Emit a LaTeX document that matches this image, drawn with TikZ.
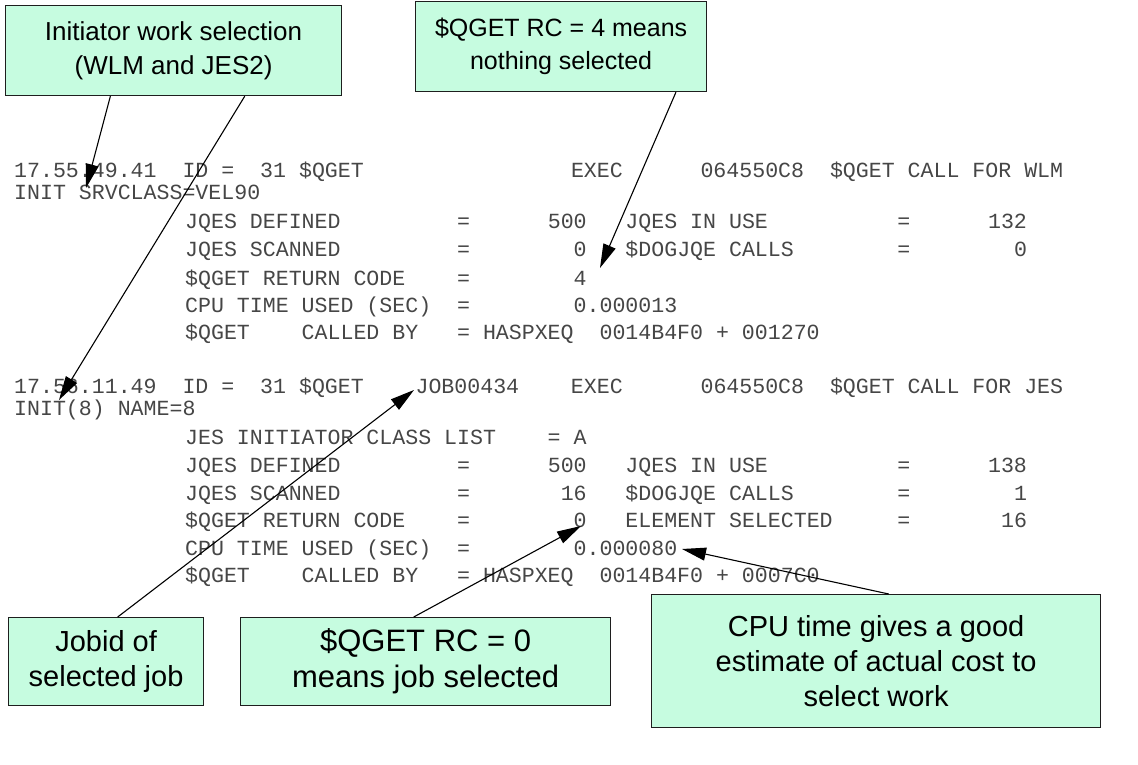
\documentclass[tikz,border=0pt]{standalone}
\usepackage{fontspec}
\setmainfont{Liberation Sans}
\newfontfamily\monofont{Liberation Mono}
\usetikzlibrary{arrows.meta,calc}
\newlength\cw
\setlength\cw{12.95pt}
\newcommand\gp[1]{\hspace*{#1\cw}}
\definecolor{mint}{RGB}{198,252,224}
\definecolor{edgec}{RGB}{30,30,30}
\definecolor{ink}{RGB}{70,70,70}
\begin{document}
\begin{tikzpicture}[x=1pt,y=-1pt,
  box/.style={draw=edgec, line width=1.2pt, fill=mint, align=center, inner sep=0pt, anchor=north west},
  boxa/.style={box, font=\fontsize{26}{34}\selectfont},
  boxs/.style={box, font=\fontsize{25}{33}\selectfont},
  boxl/.style={box, font=\fontsize{29}{35}\selectfont},
  boxm/.style={box, font=\fontsize{31}{36}\selectfont},
  mono/.style={anchor=base west, inner sep=0pt, text=ink, font=\monofont\fontsize{21.58}{21.58}\selectfont},
  arr/.style={draw=black, line width=1.1pt, -{Triangle[length=24pt,width=13pt]}}]
\fill[white] (0,0) rectangle (1138,765);
\useasboundingbox (0,0) rectangle (1138,765);
% boxes
\node[boxa, minimum width=336pt, minimum height=90pt] (b1) at (5,5) {Initiator work selection\\(WLM and JES2)};
\node[boxs, minimum width=291pt, minimum height=90pt] (b2) at (415,1) {\$QGET RC = 4 means\\nothing selected};
\node[boxl, minimum width=195pt, minimum height=88pt] (b3) at (8,617) {Jobid of\\selected job};
\node[boxm, minimum width=370pt, minimum height=88pt] (b4) at (240,617) {\$QGET RC = 0\\means job selected};
\node[boxl, minimum width=449pt, minimum height=133pt] (b5) at (651,594) {CPU time gives a good\\estimate of actual cost to\\select work};
% block 1
\node[mono] (a1) at (14,178) {17.55.49.41\gp{2}ID\gp{1}=\gp{2}31\gp{1}\$QGET\gp{16}EXEC\gp{6}064550C8\gp{2}\$QGET\gp{1}CALL\gp{1}FOR\gp{1}WLM};
\node[mono] (a2) at (14,199) {INIT\gp{1}SRVCLASS=VEL90};
\node[mono] (a3) at (185,228) {JQES\gp{1}DEFINED\gp{9}=\gp{6}500\gp{3}JQES\gp{1}IN\gp{1}USE\gp{10}=\gp{6}132};
\node[mono] (a4) at (185,256) {JQES\gp{1}SCANNED\gp{9}=\gp{8}0\gp{3}\$DOGJQE\gp{1}CALLS\gp{8}=\gp{8}0};
\node[mono] (a5) at (185,285) {\$QGET\gp{1}RETURN\gp{1}CODE\gp{4}=\gp{8}4};
\node[mono] (a6) at (185,312) {CPU\gp{1}TIME\gp{1}USED\gp{1}(SEC)\gp{2}=\gp{8}0.000013};
\node[mono] (a7) at (185,339) {\$QGET\gp{4}CALLED\gp{1}BY\gp{3}=\gp{1}HASPXEQ\gp{2}0014B4F0\gp{1}+\gp{1}001270};
% block 2
\node[mono] (c1) at (14,393) {17.56.11.49\gp{2}ID\gp{1}=\gp{2}31\gp{1}\$QGET\gp{4}JOB00434\gp{4}EXEC\gp{6}064550C8\gp{2}\$QGET\gp{1}CALL\gp{1}FOR\gp{1}JES};
\node[mono] (c2) at (14,415) {INIT(8)\gp{1}NAME=8};
\node[mono] (c3) at (185,444) {JES\gp{1}INITIATOR\gp{1}CLASS\gp{1}LIST\gp{4}=\gp{1}A};
\node[mono] (c4) at (185,472) {JQES\gp{1}DEFINED\gp{9}=\gp{6}500\gp{3}JQES\gp{1}IN\gp{1}USE\gp{10}=\gp{6}138};
\node[mono] (c5) at (185,500) {JQES\gp{1}SCANNED\gp{9}=\gp{7}16\gp{3}\$DOGJQE\gp{1}CALLS\gp{8}=\gp{8}1};
\node[mono] (c6) at (185,527) {\$QGET\gp{1}RETURN\gp{1}CODE\gp{4}=\gp{8}0\gp{3}ELEMENT\gp{1}SELECTED\gp{5}=\gp{7}16};
\node[mono] (c7) at (185,555) {CPU\gp{1}TIME\gp{1}USED\gp{1}(SEC)\gp{2}=\gp{8}0.000080};
\node[mono] (c8) at (185,582) {\$QGET\gp{4}CALLED\gp{1}BY\gp{3}=\gp{1}HASPXEQ\gp{2}0014B4F0\gp{1}+\gp{1}0007C0};
% arrow tips
\coordinate (t1) at (86,188);
\coordinate (t2) at (59,400);
\coordinate (t3) at (600,268);
\coordinate (t4) at (414,390);
\coordinate (t5) at (581,526);
\coordinate (t6) at (682,549);
% arrows
\draw[arr] ($(b1.south west)!0.3125!(b1.south east)$) -- (t1);
\draw[arr] ($(b1.south west)!0.711!(b1.south east)$) -- (t2);
\draw[arr] ($(b2.south west)!0.893!(b2.south east)$) -- (t3);
\draw[arr] ($(b3.north west)!0.559!(b3.north east)$) -- (t4);
\draw[arr] ($(b4.north west)!0.468!(b4.north east)$) -- (t5);
\draw[arr] ($(b5.north west)!0.528!(b5.north east)$) -- (t6);
\end{tikzpicture}
\end{document}
